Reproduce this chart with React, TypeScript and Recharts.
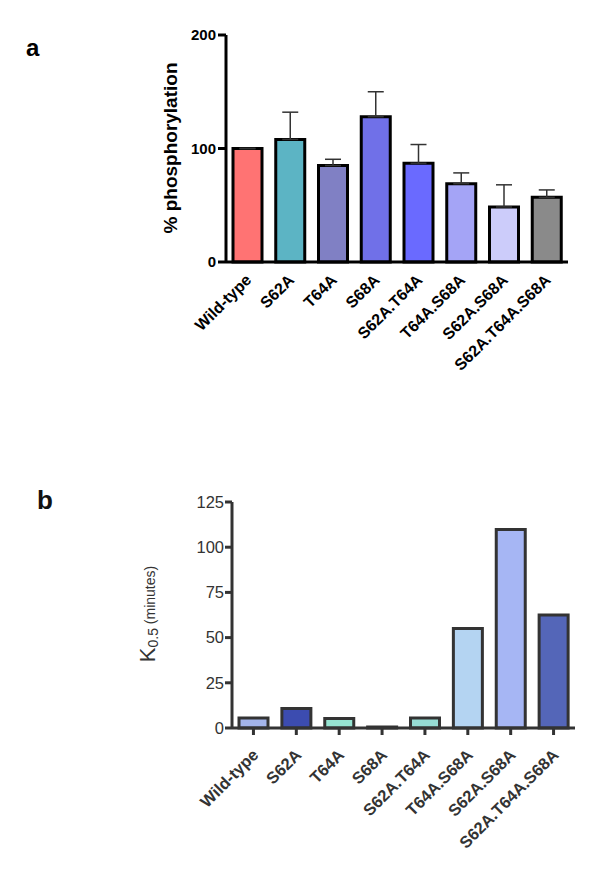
import React from "react";
import { BarChart, Bar, XAxis, YAxis, ErrorBar, Cell } from "recharts";

const categories = [
  "Wild-type",
  "S62A",
  "T64A",
  "S68A",
  "S62A.T64A",
  "T64A.S68A",
  "S62A.S68A",
  "S62A.T64A.S68A",
];

const phosValues = [100, 108, 85, 128, 87, 69, 48.5, 57];
const phosErrors = [0, 24, 5.5, 22, 16.5, 9.5, 19.5, 6.5];
const phosColors = ["#ff7373", "#5cb4c4", "#8080c4", "#7070e8", "#6a6aff", "#a4a4f6", "#ccccfa", "#8a8a8a"];
const phosTicks = [0, 100, 200];

const kValues = [5.5, 10.8, 5.3, 0.6, 5.5, 55, 109.8, 62.5];
const kColors = ["#a3b4ea", "#3c4cb0", "#96e4d2", "#b0c0e8", "#96dcd4", "#b4d4f2", "#a6b6f4", "#5466b8"];
const kTicks = [0, 25, 50, 75, 100, 125];

const phosData = categories.map((name, i) => ({
  name,
  value: phosValues[i],
  err: [0, phosErrors[i]],
}));

const kData = categories.map((name, i) => ({ name, value: kValues[i] }));

const FONT = "'Liberation Sans', Arial, Helvetica, sans-serif";

const makeTick = (color: string, dx: number, dy: number, size: number) => (props: any) => {
  const { x, y, payload } = props;
  return (
    <g transform={`translate(${x + dx},${y + dy})`}>
      <text
        x={0}
        y={0}
        textAnchor="end"
        transform="rotate(-45)"
        fill={color}
        fontFamily={FONT}
        fontWeight="bold"
        fontSize={size}
      >
        {payload.value}
      </text>
    </g>
  );
};

export default function App() {
  return (
    <div style={{ position: "absolute", left: 0, top: 0, width: 600, height: 874, background: "#fff", fontFamily: FONT }}>
      <div style={{ position: "absolute", left: 26, top: 34, fontSize: 24, fontWeight: "bold", color: "#000" }}>a</div>
      <div style={{ position: "absolute", left: 37, top: 485, fontSize: 26, fontWeight: "bold", color: "#111" }}>b</div>

      <div
        style={{
          position: "absolute",
          left: 171,
          top: 148,
          transform: "translate(-50%, -50%) rotate(-90deg)",
          whiteSpace: "nowrap",
          fontSize: 19,
          fontWeight: "bold",
          color: "#000",
        }}
      >
        % phosphorylation
      </div>

      <div
        style={{
          position: "absolute",
          left: 148,
          top: 614,
          transform: "translate(-50%, -50%) rotate(-90deg)",
          whiteSpace: "nowrap",
          color: "#333",
          lineHeight: 1,
        }}
      >
        <span style={{ fontSize: 22 }}>K</span>
        <span style={{ fontSize: 14, position: "relative", top: 3 }}>0.5</span>
        <span style={{ fontSize: 14 }}> (minutes)</span>
      </div>

      <div style={{ position: "absolute", left: 0, top: 0 }}>
        <BarChart
          width={600}
          height={420}
          data={phosData}
          margin={{ top: 35, right: 32, left: 0, bottom: 58 }}
          barSize={29}
        >
          <XAxis
            dataKey="name"
            height={100}
            interval={0}
            tickLine={false}
            tickSize={0}
            tickMargin={0}
            axisLine={{ stroke: "#000", strokeWidth: 3 }}
            tick={makeTick("#000", 5, 19, 16)}
          />
          <YAxis
            width={226}
            domain={[0, 200]}
            ticks={phosTicks}
            tickSize={8}
            tickMargin={2}
            axisLine={{ stroke: "#000", strokeWidth: 3 }}
            tickLine={{ stroke: "#000", strokeWidth: 3 }}
            tick={{ fill: "#000", fontSize: 15, fontWeight: "bold", fontFamily: FONT }}
          />
          <Bar dataKey="value" stroke="#000" strokeWidth={3} isAnimationActive={false}>
            {phosData.map((d, i) => (
              <Cell key={d.name} fill={phosColors[i]} />
            ))}
            <ErrorBar dataKey="err" width={8} stroke="#333" strokeWidth={1.5} direction="y" />
          </Bar>
        </BarChart>
      </div>

      <div style={{ position: "absolute", left: 0, top: 440 }}>
        <BarChart
          width={600}
          height={434}
          data={kData}
          margin={{ top: 62, right: 25, left: 0, bottom: 46 }}
          barSize={29}
        >
          <XAxis
            dataKey="name"
            height={100}
            interval={0}
            tickSize={7}
            tickMargin={0}
            axisLine={{ stroke: "#333", strokeWidth: 3 }}
            tickLine={{ stroke: "#333", strokeWidth: 3 }}
            tick={makeTick("#333", 6, 21, 16.5)}
          />
          <YAxis
            width={232}
            domain={[0, 125]}
            ticks={kTicks}
            tickSize={7}
            tickMargin={1}
            axisLine={{ stroke: "#333", strokeWidth: 3 }}
            tickLine={{ stroke: "#333", strokeWidth: 3 }}
            tick={{ fill: "#333", fontSize: 16.5, fontFamily: FONT }}
          />
          <Bar dataKey="value" stroke="#333" strokeWidth={3} isAnimationActive={false}>
            {kData.map((d, i) => (
              <Cell key={d.name} fill={kColors[i]} />
            ))}
          </Bar>
        </BarChart>
      </div>
    </div>
  );
}
